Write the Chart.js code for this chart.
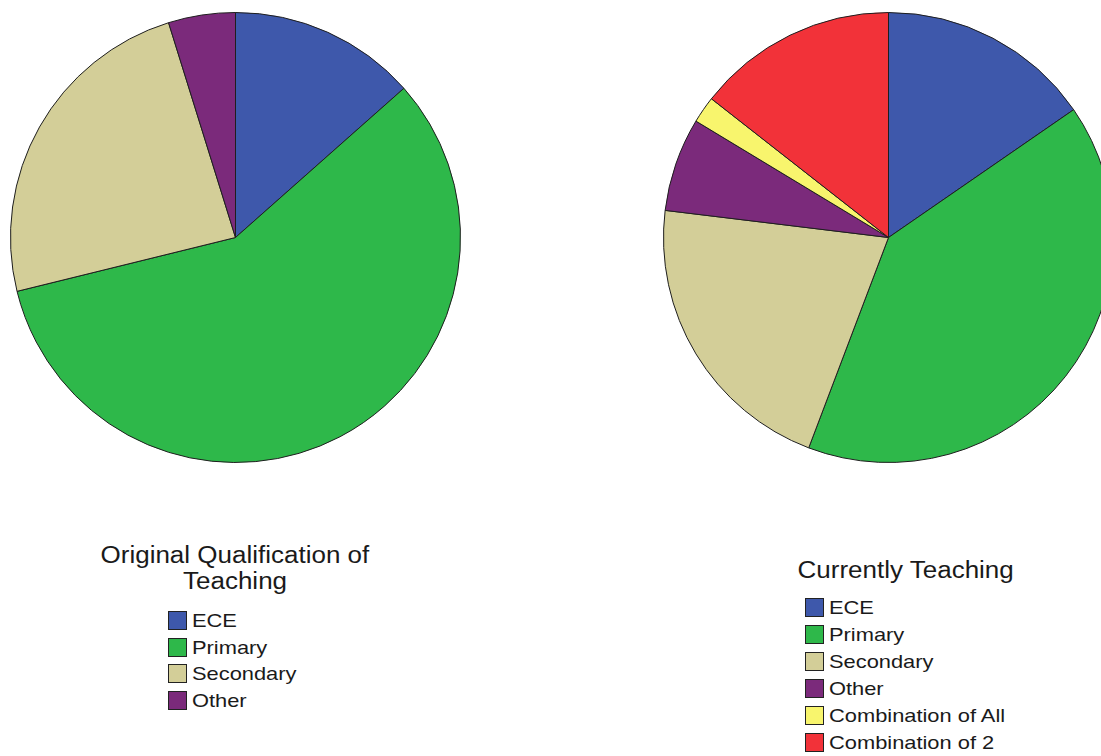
<!DOCTYPE html>
<html>
<head>
<meta charset="utf-8">
<script src="https://cdn.jsdelivr.net/npm/chart.js@4.4.1/dist/chart.umd.min.js"></script>
<style>
  html, body { margin: 0; padding: 0; background: #fff; overflow: hidden; }
  body { width: 1101px; height: 756px; position: relative; font-family: "Liberation Sans", Arial, sans-serif; color: #1a1a1a; }
  .pie { position: absolute; top: 12px; width: 451px; height: 451px; }
  .legend { position: absolute; }
  .legend .title { font-size: 23px; line-height: 26px; text-align: center; position: absolute; white-space: nowrap; transform: scaleX(1.13); transform-origin: center; }
  .legend .item { position: absolute; font-size: 19px; line-height: 20px; white-space: nowrap; }
  .legend .box { position: absolute; width: 17px; height: 17px; border: 1.5px solid #222; left: 0; top: 0; }
  .legend .label { position: absolute; left: 24px; top: 0; transform: scaleX(1.15); transform-origin: left; }
</style>
</head>
<body>
<div class="pie" style="left:10px"><canvas id="qualChart"></canvas></div>
<div class="pie" style="left:663px"><canvas id="teachChart"></canvas></div>
<div class="legend" id="qualLegend" style="left:0; top:0"></div>
<div class="legend" id="teachLegend" style="left:0; top:0"></div>
<script>
// Original Qualification of Teaching (counts)
const qualLabels = ['ECE', 'Primary', 'Secondary', 'Other'];
const qualValues = [14, 60, 25, 5];

// Currently Teaching (counts)
const teachLabels = ['ECE', 'Primary', 'Secondary', 'Other', 'Combination of All', 'Combination of 2'];
const teachValues = [16, 42, 22, 7, 2, 15];

const palette = {
    'ECE': '#3e58ab',
    'Primary': '#2eb84a',
    'Secondary': '#d3ce98',
    'Other': '#7b2a7b',
    'Combination of All': '#f8f56d',
    'Combination of 2': '#f23239'
};

function makePie(canvasId, labels, values) {
    const ctx = document.getElementById(canvasId).getContext('2d');
    return new Chart(ctx, {
        type: 'pie',
        data: {
            labels: labels,
            datasets: [{
                data: values,
                backgroundColor: labels.map(l => palette[l]),
                borderColor: '#1e1e1e',
                borderWidth: 1
            }]
        },
        options: {
            responsive: true,
            maintainAspectRatio: false,
            animation: false,
            layout: { padding: 0 },
            plugins: { legend: { display: false }, tooltip: { enabled: false } }
        }
    });
}

function makeLegend(elId, titleLines, labels, titleX, titleTop, boxX, boxTop, rowGap) {
    const el = document.getElementById(elId);
    titleLines.forEach((line, i) => {
        const t = document.createElement('div');
        t.className = 'title';
        t.textContent = line;
        t.style.top = (titleTop + i * 26) + 'px';
        el.appendChild(t);
        t.style.left = (titleX - t.offsetWidth / 2) + 'px';
    });
    labels.forEach((l, i) => {
        const item = document.createElement('div');
        item.className = 'item';
        item.style.left = boxX + 'px';
        item.style.top = (boxTop + i * rowGap) + 'px';
        const box = document.createElement('div');
        box.className = 'box';
        box.style.background = palette[l];
        const lab = document.createElement('div');
        lab.className = 'label';
        lab.textContent = l;
        item.appendChild(box);
        item.appendChild(lab);
        el.appendChild(item);
    });
}

makePie('qualChart', qualLabels, qualValues);
makePie('teachChart', teachLabels, teachValues);

makeLegend('qualLegend', ['Original Qualification of', 'Teaching'], qualLabels, 235, 542, 168, 611, 26.7);
makeLegend('teachLegend', ['Currently Teaching'], teachLabels, 905, 557, 805, 598, 27);
</script>
</body>
</html>
